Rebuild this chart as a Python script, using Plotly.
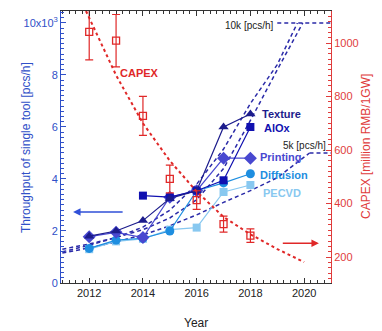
import plotly.graph_objects as go

years = [2012, 2013, 2014, 2015, 2016, 2017, 2018]
texture = [1.8, 2.0, 2.4, 3.25, 3.55, 6.0, 6.5]
alox_years = [2014, 2015, 2016, 2017, 2018]
alox = [3.36, 3.3, 3.55, 3.95, 6.0]
printing = [1.78, 1.95, 1.75, 3.3, 3.55, 4.8, 4.8]
diffusion = [1.33, 1.65, 1.72, 2.0, 3.55, 3.85, 4.2]
pecvd = [1.3, 1.6, 1.7, 2.05, 2.13, 3.5, 3.77]

capex = [1042, 1009, 728, 492, 413, 323, 280]
capex_err = [105, 98, 73, 52, 35, 30, 25]

fit_a_years = [2011.0, 2012, 2013, 2014, 2015, 2016, 2017, 2018, 2019, 2019.95]
fit_a = [1.3, 1.5, 1.75, 2.05, 2.5, 3.2, 4.4, 6.25, 8.2, 10.0]
fit_b_years = [2011.0, 2012, 2013, 2014, 2015, 2016, 2017, 2018, 2019, 2019.75]
fit_b = [1.2, 1.45, 1.75, 2.15, 2.8, 3.8, 5.15, 6.9, 8.4, 10.0]
fit_c_years = [2011.0, 2012, 2013, 2014, 2015, 2016, 2017, 2018, 2019, 2020.2]
fit_c = [1.15, 1.35, 1.58, 1.85, 2.2, 2.62, 3.1, 3.55, 4.05, 5.0]
cap_fit_years = [2011.88, 2013, 2014, 2015, 2016, 2017, 2018, 2019, 2020]
cap_fit = [1120, 880, 700, 560, 445, 350, 285, 230, 181]

NAVY = "#1c1c8c"
ALOX = "#1010b0"
PRINT = "#4848d0"
DIFF = "#1e8ee0"
PEC = "#88c8f0"
RED = "#e02828"
FIT = "#2a2aa8"
BLUEAX = "#3050c8"
REDAX = "#e03c3c"

fig = go.Figure()

def dash_line(x, y, color, yaxis="y", dash="4px,3px", width=1.5):
    fig.add_trace(go.Scatter(x=x, y=y, mode="lines", yaxis=yaxis,
                             line=dict(color=color, width=width, dash=dash),
                             showlegend=False, hoverinfo="skip"))

dash_line(fit_a_years, fit_a, FIT)
dash_line(fit_b_years, fit_b, FIT)
dash_line(fit_c_years, fit_c, FIT)
dash_line([2019.0, 2021.0], [10.0, 10.0], FIT)
dash_line([2020.2, 2021.0], [5.0, 5.0], FIT)
dash_line(cap_fit_years, cap_fit, RED, "y2", dash="3px,3px", width=2)

def series(x, y, color, symbol, size):
    fig.add_trace(go.Scatter(x=x, y=y, mode="lines+markers",
                             line=dict(color=color, width=1.2),
                             marker=dict(color=color, symbol=symbol, size=size),
                             showlegend=False))

series(years, pecvd, PEC, "square", 8)
series(years, diffusion, DIFF, "circle", 9)
series(years, printing, PRINT, "diamond", 10)
series(alox_years, alox, ALOX, "square", 8)
series(years, texture, NAVY, "triangle-up", 9)

fig.add_trace(go.Scatter(x=years, y=capex, yaxis="y2", mode="markers",
                         marker=dict(symbol="square-open", size=7, color=RED, line=dict(width=1.3)),
                         error_y=dict(type="data", array=capex_err, color=RED, thickness=1.2, width=4),
                         showlegend=False))

# arrows
fig.add_annotation(x=2011.4, y=2.73, ax=2013.3, ay=2.73, xref="x", yref="y", axref="x", ayref="y",
                   showarrow=True, arrowhead=2, arrowsize=1, arrowwidth=1.5, arrowcolor="#3050d8", text="")
fig.add_annotation(x=2020.55, y=252, ax=2019.15, ay=252, xref="x", yref="y2", axref="x", ayref="y2",
                   showarrow=True, arrowhead=2, arrowsize=1, arrowwidth=1.5, arrowcolor=RED, text="")

def label(text, x, y, color, yref="y", anchor="left", bold=True, size=11):
    fig.add_annotation(x=x, y=y, xref="x", yref=yref, text=f"<b>{text}</b>" if bold else text,
                       showarrow=False, xanchor=anchor, yanchor="middle",
                       font=dict(color=color, size=size, family="Arial, Liberation Sans"))

label("CAPEX", 2013.07, 888, RED, "y2")
label("Texture", 2018.35, 6.5, NAVY)
label("AlOx", 2018.45, 5.96, ALOX)
label("Printing", 2018.3, 4.85, PRINT)
label("Diffusion", 2018.3, 4.15, DIFF)
label("PECVD", 2018.4, 3.46, PEC)
label("10k [pcs/h]", 2018.95, 9.92, "#222222", anchor="right", bold=False, size=10)
label("5k [pcs/h]", 2020.9, 5.3, "#222222", anchor="right", bold=False, size=10)

# axis titles
fig.add_annotation(x=-0.163, y=0.5, xref="paper", yref="paper", text="Throughput of single tool [pcs/h]",
                   textangle=-90, showarrow=False, font=dict(size=12, color=BLUEAX))
fig.add_annotation(x=1.163, y=0.5, xref="paper", yref="paper", text="CAPEX [million RMB/1GW]",
                   textangle=-90, showarrow=False, font=dict(size=12, color=REDAX))
fig.add_annotation(x=0.5, y=-0.147, xref="paper", yref="paper", text="Year", yanchor="middle",
                   showarrow=False, font=dict(size=12, color="#222222"))

fig.update_layout(
    width=382, height=331,
    margin=dict(l=61, r=51, t=11, b=48, autoexpand=False),
    plot_bgcolor="white", paper_bgcolor="white",
    font=dict(family="Arial, Liberation Sans", size=11),
    xaxis=dict(range=[2010.95, 2021.0], tickvals=[2012, 2014, 2016, 2018, 2020], automargin=False,
               showline=True, linecolor="#333333", linewidth=1, mirror="ticks",
               ticks="inside", ticklen=5, tickcolor="#333333",
               minor=dict(ticks="inside", dtick=0.25, ticklen=3, tickcolor="#333333"),
               showgrid=False, zeroline=False, tickfont=dict(color="#222222", size=11)),
    yaxis=dict(range=[0, 10.46], tickvals=[0, 2, 4, 6, 8, 10], automargin=False,
               ticktext=["0", "2", "4", "6", "8", "10x10<sup>3</sup>"],
               showline=True, linecolor=BLUEAX, linewidth=1,
               ticks="inside", ticklen=5, tickcolor=BLUEAX,
               minor=dict(ticks="inside", dtick=0.2, ticklen=3, tickcolor=BLUEAX),
               showgrid=False, zeroline=False, tickfont=dict(color=BLUEAX, size=11)),
    yaxis2=dict(range=[103, 1120], overlaying="y", side="right", tickvals=[200, 400, 600, 800, 1000],
                automargin=False,
                showline=True, linecolor=REDAX, linewidth=1,
                ticks="inside", ticklen=5, tickcolor=REDAX,
                minor=dict(ticks="inside", dtick=20, ticklen=3, tickcolor=REDAX),
                showgrid=False, zeroline=False, tickfont=dict(color=REDAX, size=11)),
)

fig.write_html("out.html", config={"displayModeBar": False},
               post_script="document.body.style.margin='0';document.body.style.padding='0';")
